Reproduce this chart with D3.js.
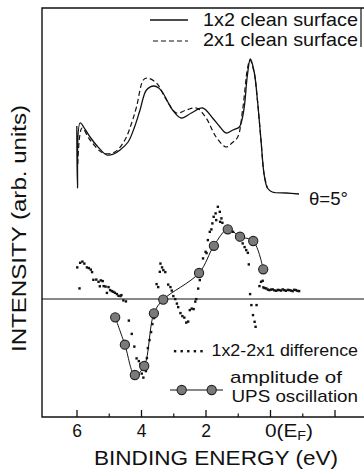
<!DOCTYPE html>
<html><head><meta charset="utf-8">
<script src="https://cdn.jsdelivr.net/npm/d3@7/dist/d3.min.js"></script>
<style>
html,body{margin:0;padding:0;background:#fff;}
svg text{font-family:"Liberation Sans",Arial,Helvetica,sans-serif;fill:#111;}
</style></head><body>
<svg id="chart" width="364" height="472"></svg>
<script>
// ---- data ----
const majorTicks = [6, 4, 2, 0, -2];
const minorTicks = [5, 3, 1, -1];
const tickLabels = ["6", "4", "2", "0", ""];

const legendLabels = ["1x2 clean surface", "2x1 clean surface", "1x2-2x1 difference", "amplitude of", "UPS oscillation"];
const angleLabel = "θ=5°";
const xTitle = "BINDING ENERGY (eV)";
const yTitle = "INTENSITY (arb. units)";

// spectrum of 1x2 clean surface [binding energy, intensity]
const spec1x2 = [[5.99,17.3],[5.97,11.1],[5.89,17.6],[5.72,16.9],[5.58,16.2],[5.36,15.3],[5.06,14.4],[4.85,14.5],[4.65,14.9],[4.40,15.7],[4.20,17.2],[4.03,18.9],[3.83,20.9],[3.60,21.3],[3.45,21.1],[3.32,20.6],[3.02,18.9],[2.75,18.1],[2.44,18.6],[2.09,19.1],[1.78,18.1],[1.55,17.2],[1.36,16.6],[1.15,16.9],[0.95,17.2],[0.85,18.2],[0.79,19.4],[0.70,22.4],[0.61,24.0],[0.49,22.7],[0.39,19.9],[0.28,15.9],[0.18,12.4],[0.08,11.1],[-0.07,10.7],[-0.50,10.6],[-0.90,10.5]];
// spectrum of 2x1 clean surface
const spec2x1 = [[5.96,13.5],[5.83,17.1],[5.58,15.9],[5.18,14.6],[4.81,14.7],[4.50,15.9],[4.30,17.5],[4.14,19.2],[3.93,21.9],[3.81,22.1],[3.52,21.6],[3.21,19.9],[2.90,18.6],[2.59,18.9],[2.28,19.1],[1.98,18.1],[1.67,16.2],[1.36,15.2],[1.18,15.6],[1.00,16.2],[0.85,18.9],[0.69,23.2],[0.62,23.9],[0.49,22.6],[0.39,19.9],[0.28,15.9],[0.18,12.4],[0.08,11.1]];
// 1x2-2x1 difference
const diffPts = [[5.98,3.17],[5.91,1.07],[5.89,3.63],[5.82,3.75],[5.76,3.55],[5.68,3.17],[5.62,3.10],[5.56,2.95],[5.52,2.70],[5.48,1.93],[5.39,1.95],[5.32,1.73],[5.28,1.28],[5.25,1.87],[5.19,1.80],[5.16,1.30],[5.10,1.25],[5.06,0.62],[5.01,1.20],[4.96,0.90],[4.91,0.80],[4.86,0.73],[4.81,0.63],[4.75,0.50],[4.70,0.33],[4.64,0.30],[4.61,0.40],[4.55,-0.13],[4.47,-0.23],[4.38,-2.15],[4.29,-3.48],[4.21,-4.75],[4.14,-5.93],[4.07,-6.20],[4.02,-6.50],[3.98,-7.45],[3.93,-7.85],[3.85,-7.20],[3.82,-5.90],[3.79,-4.90],[3.74,-4.10],[3.69,-3.30],[3.65,-2.50],[3.60,-1.90],[3.52,1.50],[3.47,1.20],[3.42,2.73],[3.40,3.55],[3.35,3.17],[3.31,2.90],[3.25,2.70],[3.16,1.45],[3.09,1.20],[3.05,0.85],[3.00,0.30],[2.94,0.00],[2.89,-0.45],[2.85,-0.80],[2.78,-1.40],[2.72,-1.70],[2.66,-1.85],[2.60,-2.35],[2.54,-2.25],[2.49,-1.10],[2.43,-0.95],[2.37,-1.00],[2.32,-0.25],[2.29,0.00],[2.23,1.05],[2.18,1.90],[2.08,4.07],[2.00,4.73],[1.97,4.60],[1.93,5.90],[1.87,6.73],[1.82,6.97],[1.79,7.57],[1.75,8.23],[1.69,8.57],[1.67,7.90],[1.62,9.23],[1.56,8.73],[1.55,7.73],[1.51,8.07],[1.48,7.63],[1.38,7.17],[1.29,7.00],[1.15,6.73],[1.05,6.23],[0.95,5.90],[0.85,5.57],[0.79,5.20],[0.74,4.90],[0.69,4.63],[0.66,3.47],[0.62,0.50],[0.58,-0.60],[0.53,-1.60],[0.48,-2.27],[0.45,-2.77],[0.42,-0.60],[0.33,1.30],[0.28,1.73],[0.23,1.83],[0.21,1.17],[0.17,1.10],[0.12,1.07],[0.07,0.95],[0.02,0.90],[-0.03,0.95],[-0.08,0.97],[-0.13,0.88],[-0.19,0.83],[-0.24,0.92],[-0.29,0.90],[-0.34,0.85],[-0.39,0.97],[-0.44,0.90],[-0.49,0.83],[-0.55,0.92],[-0.60,0.90],[-0.65,0.85],[-0.70,0.80],[-0.75,0.93],[-0.80,0.90],[-0.85,0.82],[-0.90,0.80]];
// amplitude of UPS oscillation
const oscE = [4.80, 4.50, 4.19, 3.90, 3.60, 3.31, 2.20, 1.74, 1.31, 0.93, 0.52, 0.21];
const oscA = [-1.83, -4.57, -7.60, -6.70, -1.43, -0.06, 2.60, 5.32, 6.97, 6.23, 5.80, 2.97];

// ---- layout ----
const svg = d3.select("#chart");
const frameL = 42, frameR = 364, frameT = 8, frameB = 417;
const x = d3.scaleLinear().domain([6, -2]).range([76.5, 334.5]);
const y = d3.scaleLinear().domain([-11.8, 29.1]).range([frameB, frameT]);
const ink = "#111";

function label(xp, yp, size, txt, len) {
  const t = svg.append("text").attr("x", xp).attr("y", yp).attr("font-size", size).text(txt);
  if (len) t.attr("textLength", len).attr("lengthAdjust", "spacingAndGlyphs");
  return t;
}

// frame
svg.append("path")
  .attr("d", `M${frameR},${frameT}H${frameL}V${frameB}H${frameR}`)
  .attr("fill", "none").attr("stroke", ink).attr("stroke-width", 1.4);
svg.append("line").attr("x1", 361).attr("x2", 361).attr("y1", frameT).attr("y2", 47)
  .attr("stroke", ink).attr("stroke-width", 1.2);

// zero line of the difference
svg.append("line").attr("x1", frameL).attr("x2", frameR).attr("y1", y(0)).attr("y2", y(0))
  .attr("stroke", ink).attr("stroke-width", 1.2);

// axis
const axis = d3.axisBottom(x).tickValues(majorTicks).tickSize(-7).tickPadding(8)
  .tickFormat((d, i) => tickLabels[i]);
const gAx = svg.append("g").attr("transform", `translate(0,${frameB})`).call(axis);
gAx.select(".domain").remove();
gAx.selectAll(".tick line").attr("stroke", ink).attr("stroke-width", 1.3);
gAx.selectAll(".tick text").attr("font-size", 17.5).attr("fill", ink)
  .attr("font-family", "Liberation Sans, Arial, sans-serif");
gAx.selectAll(".tick").filter(d => d === 0).select("text")
  .attr("text-anchor", "start").attr("x", -5.5)
  .attr("textLength", 48).attr("lengthAdjust", "spacingAndGlyphs")
  .text("0(E").call(t => {
    t.append("tspan").attr("font-size", 12).attr("dy", 3).text("F");
    t.append("tspan").attr("dy", -3).text(")");
  });
const gMin = svg.append("g").attr("transform", `translate(0,${frameB})`)
  .call(d3.axisBottom(x).tickValues(minorTicks).tickSize(-3.5).tickFormat(""));
gMin.select(".domain").remove();
gMin.selectAll(".tick line").attr("stroke", ink).attr("stroke-width", 1.2);

// titles
label(94, 465, 21, xTitle, 244);
svg.append("text").attr("transform", "translate(26,352) rotate(-90)")
  .attr("font-size", 21).attr("textLength", 247).attr("lengthAdjust", "spacingAndGlyphs")
  .text(yTitle);

// spectra
const line = d3.line().x(d => x(d[0])).y(d => y(d[1])).curve(d3.curveCatmullRom.alpha(0.5));
svg.append("path").datum(spec2x1).attr("d", line).attr("fill", "none")
  .attr("stroke", ink).attr("stroke-width", 1.2).attr("stroke-dasharray", "5,3");
svg.append("path").datum(spec1x2).attr("d", line).attr("fill", "none")
  .attr("stroke", ink).attr("stroke-width", 1.3);

label(309, 205, 18.5, angleLabel, 39);

// difference dots
svg.append("g").selectAll("rect").data(diffPts).join("rect")
  .attr("x", d => x(d[0]) - 1.1).attr("y", d => y(d[1]) - 1.1)
  .attr("width", 2.4).attr("height", 2.4).attr("fill", ink);

// oscillation amplitude
const osc = oscE.map((e, i) => [e, oscA[i]]);
svg.append("path").datum(osc).attr("d", line).attr("fill", "none")
  .attr("stroke", ink).attr("stroke-width", 1);
svg.append("g").selectAll("circle").data(osc).join("circle")
  .attr("cx", d => x(d[0])).attr("cy", d => y(d[1])).attr("r", 4.6)
  .attr("fill", "#7a7a7a").attr("stroke", "#222").attr("stroke-width", 1.1);

// legends
svg.append("line").attr("x1", 150).attr("x2", 188).attr("y1", 20).attr("y2", 20)
  .attr("stroke", ink).attr("stroke-width", 1.3);
label(203, 26, 18.5, legendLabels[0], 155);
svg.append("line").attr("x1", 153).attr("x2", 188).attr("y1", 41).attr("y2", 41)
  .attr("stroke", ink).attr("stroke-width", 1.2).attr("stroke-dasharray", "5,3");
label(203, 46, 18.5, legendLabels[1], 155);

svg.append("g").selectAll("rect").data(d3.range(5)).join("rect")
  .attr("x", i => 175 + i * 6.6 - 1.1).attr("y", 350).attr("width", 2.4).attr("height", 2.4).attr("fill", ink);
label(211.5, 356, 16.5, legendLabels[2], 146.5);
svg.append("line").attr("x1", 170).attr("x2", 223).attr("y1", 390).attr("y2", 390)
  .attr("stroke", ink).attr("stroke-width", 1);
svg.append("g").selectAll("circle").data([181.7, 211.7]).join("circle")
  .attr("cx", d => d).attr("cy", 390).attr("r", 4.6)
  .attr("fill", "#7a7a7a").attr("stroke", "#222").attr("stroke-width", 1.1);
label(230, 383, 17, legendLabels[3], 112);
label(231.5, 402, 17, legendLabels[4], 126.5);
</script></body></html>
